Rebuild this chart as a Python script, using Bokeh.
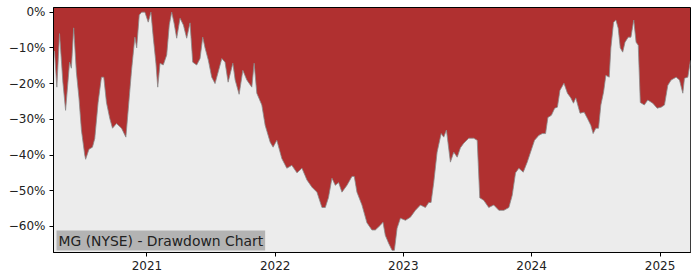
import datetime as dt
from bokeh.plotting import figure
from bokeh.models import Range1d, FixedTicker, CustomJSTickFormatter, Label, ColumnDataSource
from bokeh.embed import file_html
from bokeh.resources import INLINE

# decimal-year positions
years = [
    2020.273, 2020.281, 2020.299, 2020.320, 2020.346, 2020.367, 2020.398, 2020.412, 2020.430, 2020.451,
    2020.471, 2020.490, 2020.516, 2020.523, 2020.549, 2020.576, 2020.594, 2020.620, 2020.646, 2020.664,
    2020.685, 2020.711, 2020.732, 2020.763, 2020.802, 2020.836, 2020.862, 2020.880, 2020.906, 2020.920,
    2020.940, 2020.959, 2020.984, 2021.010, 2021.031, 2021.049, 2021.070, 2021.084, 2021.102, 2021.127,
    2021.154, 2021.174, 2021.193, 2021.211, 2021.232, 2021.258, 2021.284, 2021.310, 2021.336, 2021.357,
    2021.388, 2021.414, 2021.435, 2021.453, 2021.479, 2021.505, 2021.531, 2021.584, 2021.609, 2021.633,
    2021.670, 2021.688, 2021.719, 2021.748, 2021.779, 2021.818, 2021.836, 2021.857, 2021.896, 2021.922,
    2021.961, 2021.984, 2022.013, 2022.052, 2022.091, 2022.130, 2022.170, 2022.209, 2022.248, 2022.287,
    2022.326, 2022.365, 2022.391, 2022.416, 2022.443, 2022.469, 2022.495, 2022.521, 2022.560, 2022.599,
    2022.617, 2022.638, 2022.677, 2022.716, 2022.755, 2022.781, 2022.820, 2022.841, 2022.859, 2022.885,
    2022.912, 2022.930, 2022.951, 2022.977, 2023.016, 2023.055, 2023.094, 2023.133, 2023.172, 2023.198,
    2023.216, 2023.237, 2023.263, 2023.295, 2023.315, 2023.336, 2023.367, 2023.393, 2023.420, 2023.445,
    2023.471, 2023.510, 2023.549, 2023.576, 2023.596, 2023.627, 2023.666, 2023.705, 2023.745, 2023.784,
    2023.823, 2023.849, 2023.875, 2023.901, 2023.935, 2023.966, 2023.992, 2024.023, 2024.057, 2024.084,
    2024.109, 2024.127, 2024.154, 2024.180, 2024.201, 2024.221, 2024.252, 2024.279, 2024.305, 2024.326,
    2024.344, 2024.377, 2024.409, 2024.435, 2024.461, 2024.479, 2024.500, 2024.521, 2024.539, 2024.560,
    2024.578, 2024.604, 2024.617, 2024.638, 2024.656, 2024.674, 2024.690, 2024.709, 2024.727, 2024.752,
    2024.773, 2024.795, 2024.813, 2024.830, 2024.846, 2024.877, 2024.904, 2024.943, 2024.977, 2025.008,
    2025.034, 2025.060, 2025.086, 2025.125, 2025.151, 2025.177, 2025.190, 2025.216, 2025.237,
]

drawdown = [
    -10.7, -11.0, -21.0, -6.0, -19.6, -27.5, -14.0, -15.7, -4.4, -16.8,
    -24.0, -33.0, -40.0, -41.2, -38.4, -37.8, -35.4, -25.3, -18.2, -18.2,
    -25.3, -29.8, -32.5, -31.2, -32.5, -35.0, -24.0, -16.3, -7.0, -10.0,
    -0.8, 0.0, 0.0, -2.8, 0.0, -7.0, -14.3, -21.0, -14.3, -14.8,
    -12.0, -3.6, 0.0, -3.0, -7.3, -1.7, -3.6, -7.3, -3.0, -14.0,
    -14.8, -13.0, -7.0, -10.0, -13.5, -18.2, -20.0, -13.0, -14.0, -19.6,
    -14.3, -19.0, -23.0, -16.3, -19.0, -21.0, -14.3, -22.7, -26.0, -31.7,
    -36.4, -37.8, -35.9, -41.0, -43.7, -42.9, -45.0, -43.7, -47.0, -49.0,
    -50.4, -54.7, -54.7, -51.9, -46.5, -48.5, -47.7, -50.4, -48.5, -46.0,
    -46.0, -50.4, -54.0, -59.0, -61.0, -61.0, -59.7, -58.8, -62.5, -64.7,
    -66.7, -66.7, -60.5, -57.7, -58.3, -57.4, -55.5, -54.0, -54.7, -53.3,
    -53.3, -47.7, -39.2, -34.0, -35.0, -33.0, -42.0, -39.2, -40.6, -38.0,
    -36.7, -35.3, -35.3, -35.9, -52.0, -52.7, -54.7, -54.0, -55.5, -55.5,
    -54.7, -51.3, -45.0, -43.7, -44.8, -42.0, -39.2, -35.9, -34.5, -34.0,
    -34.0, -29.5, -28.9, -26.9, -26.6, -21.9, -19.9, -22.7, -24.0, -25.5,
    -24.0, -28.3, -28.0, -29.8, -31.7, -34.0, -32.5, -32.5, -26.0, -22.4,
    -17.7, -18.2, -10.0, -2.8, -2.2, -4.5, -10.0, -11.2, -8.4, -7.0,
    -7.0, -2.2, -8.4, -9.3, -25.3, -26.0, -24.6, -25.5, -26.9, -26.6,
    -26.0, -20.5, -19.0, -18.2, -19.0, -22.7, -18.5, -18.2, -13.5,
]

y_ticks = [0, -10, -20, -30, -40, -50, -60]
x_tick_years = [2021, 2022, 2023, 2024, 2025]
title_text = "MG (NYSE) - Drawdown Chart"


def to_dt(t):
    y = int(t)
    start = dt.datetime(y, 1, 1)
    days = (dt.datetime(y + 1, 1, 1) - start).days
    return start + dt.timedelta(days=(t - y) * days)


dates = [to_dt(t) for t in years]
y_min, y_max = -67.3, 1.3
src = ColumnDataSource(dict(date=dates, dd=drawdown, base=[y_min] * len(dates)))

p = figure(width=700, height=280, output_backend="svg", toolbar_location=None,
           x_axis_type="datetime",
           x_range=Range1d(dates[0], dates[-1]), y_range=Range1d(y_min, y_max),
           min_border_left=53, min_border_right=10, min_border_top=7, min_border_bottom=28)

p.background_fill_color = "#b03030"
p.border_fill_color = "white"
p.outline_line_color = "black"
p.outline_line_width = 1
p.grid.visible = False

p.varea(x="date", y1="base", y2="dd", source=src, fill_color="#ececec")
p.line(x="date", y="dd", source=src, line_color="#8a8a8a", line_width=0.8)

p.yaxis.ticker = FixedTicker(ticks=y_ticks)
p.yaxis.formatter = CustomJSTickFormatter(code="""
    return (tick < 0 ? "\u2212" : "") + Math.abs(tick).toFixed(0) + "%";
""")
tick_ms = [dt.datetime(y, 1, 1).timestamp() * 1000 for y in x_tick_years]
p.xaxis.ticker = FixedTicker(ticks=tick_ms)
p.xaxis.formatter = CustomJSTickFormatter(code="""
    return new Date(tick).getUTCFullYear().toString();
""")

for ax in (p.xaxis[0], p.yaxis[0]):
    ax.major_label_text_font = "DejaVu Sans"
    ax.major_label_text_font_size = "12px"
    ax.major_label_text_color = "#222222"
    ax.axis_line_color = "black"
    ax.major_tick_line_color = "black"
    ax.major_tick_out = 4
    ax.major_tick_in = 0
    ax.minor_tick_line_color = None
p.xaxis.major_label_standoff = 4
p.yaxis.major_label_standoff = 4

lab = Label(x=dates[0], y=y_min, text=title_text, text_font="DejaVu Sans",
            text_font_size="13.9px", text_color="#222222",
            background_fill_color="#b3b3b3", padding=2,
            x_offset=3, y_offset=2,
            text_align="left", text_baseline="bottom")
p.add_layout(lab)

open("out.html", "w").write(file_html(p, INLINE))
